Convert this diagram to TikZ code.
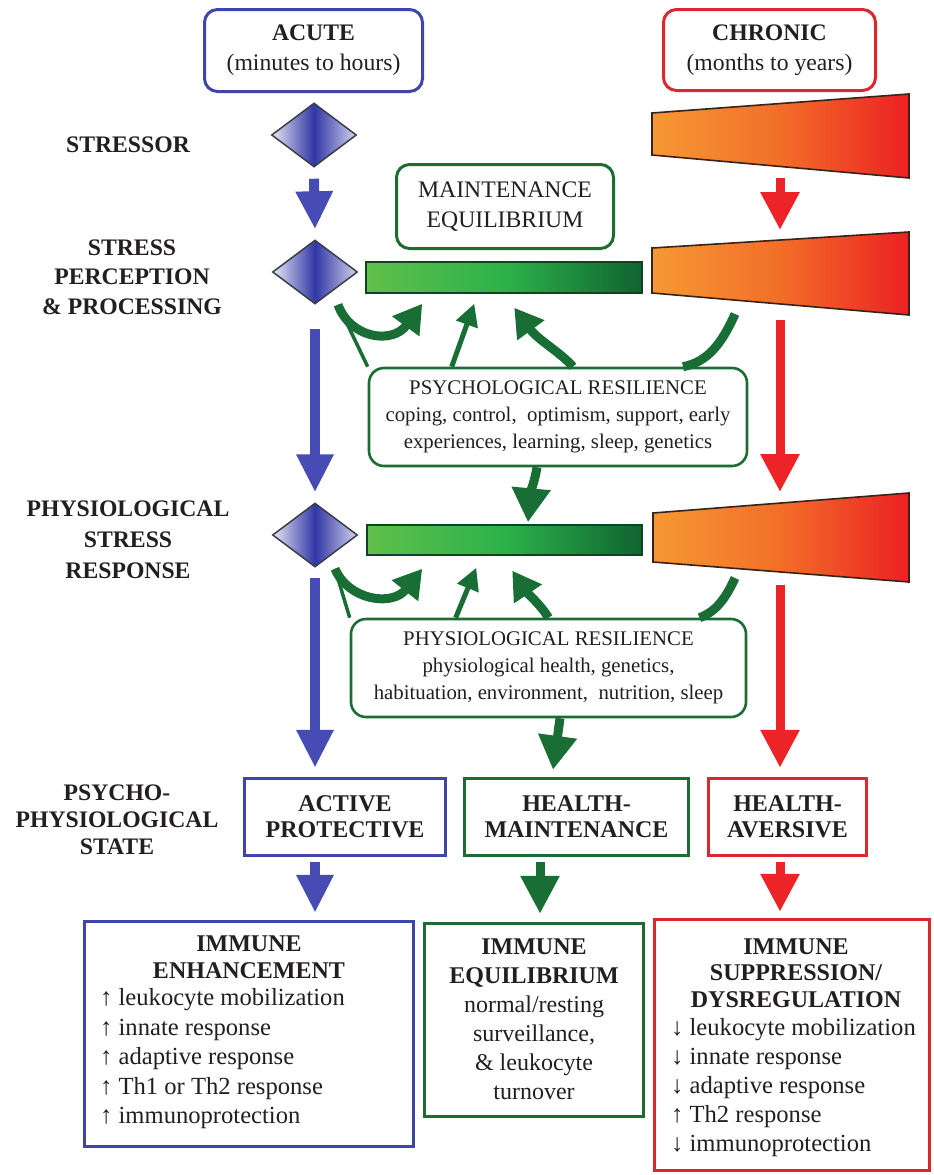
\documentclass[tikz,border=0pt]{standalone}
\usepackage{fontspec}
\setmainfont{Liberation Serif}
\usetikzlibrary{arrows.meta,shapes.geometric,calc}

\definecolor{acblue}{RGB}{62,70,168}
\definecolor{arblue}{RGB}{70,76,180}
\definecolor{diablue}{RGB}{48,54,165}
\definecolor{diaedge}{RGB}{60,60,70}
\definecolor{dkgreen}{RGB}{28,108,52}
\definecolor{argreen}{RGB}{24,110,52}
\definecolor{chred}{RGB}{218,40,46}
\definecolor{arred}{RGB}{236,36,40}
\definecolor{barA}{RGB}{96,192,74}
\definecolor{barB}{RGB}{44,178,74}
\definecolor{barC}{RGB}{16,100,48}
\definecolor{wedA}{RGB}{246,152,52}
\definecolor{wedM}{RGB}{242,110,40}
\definecolor{wedB}{RGB}{236,32,36}
\definecolor{wedline}{RGB}{55,35,25}
\definecolor{txt}{RGB}{35,31,32}

\tikzset{
  lbl/.style={font=\fontsize{23.7}{29.5}\selectfont\bfseries, align=center, text=txt, inner sep=0pt},
  hdrbox/.style={draw=#1, line width=3pt, rounded corners=13pt, align=center, text=txt,
    font=\fontsize{23.7}{30}\selectfont, inner sep=0pt},
  resbox/.style={draw=dkgreen, line width=2.6pt, rounded corners=15pt, fill=white, align=center,
    text=txt, font=\fontsize{20.8}{27}\selectfont, inner sep=0pt},
  statebox/.style={draw=#1, line width=3.5pt, align=center, text=txt,
    font=\fontsize{24}{26}\selectfont\bfseries, inner sep=0pt},
  immbox/.style={draw=#1, line width=3.5pt, inner sep=0pt},
  immhead/.style={align=center, text=txt, font=\fontsize{24}{27}\selectfont\bfseries, inner sep=0pt},
  immlist/.style={align=left, text=txt, font=\fontsize{24.6}{29.5}\selectfont, inner sep=0pt, anchor=west},
  stim/.style={diamond, draw=diaedge, line width=1.5pt, left color=white!88!diablue,
    right color=white!78!diablue, middle color=diablue, minimum width=85pt, minimum height=64pt,
    inner sep=0pt},
  gbar/.style={draw=barC!70!black, line width=1.5pt, left color=barA, right color=barC,
    middle color=barB, inner sep=0pt},
  wedge/.style={draw=wedline, line width=1.6pt, left color=wedA, right color=wedB, middle color=wedM},
  barrow/.style={draw=arblue, line width=10pt, -{Triangle[width=35pt,length=38pt]}},
  rarrow/.style={draw=arred, line width=9pt, -{Triangle[width=37pt,length=38pt]}},
  garrow/.style={draw=argreen, line width=9pt, -{Triangle[width=37pt,length=34pt]}},
  gthick/.style={draw=argreen, line width=9pt, -{Triangle[width=32pt,length=28pt]}},
  gmid/.style={draw=argreen, line width=5pt, -{Triangle[width=22pt,length=22pt]}},
  gline/.style={draw=argreen, line width=3.5pt},
  gband/.style={draw=argreen, line width=9pt},
}

\begin{document}
\begin{tikzpicture}[x=1pt,y=-1pt]
\fill[white] (0,0) rectangle (934,1175);
\useasboundingbox (0,0) rectangle (934,1175);

% time-scale headers
\node[hdrbox=acblue, minimum width=218pt, minimum height=82pt] (acute) at (313.5,50.5)
  {{\bfseries ACUTE}\\(minutes to hours)};
\node[hdrbox=chred, minimum width=212pt, minimum height=81pt] (chronic) at (769.5,50)
  {{\bfseries CHRONIC}\\(months to years)};

% row labels
\node[lbl] (lstressor) at (128,145) {STRESSOR};
\node[lbl] (lperc) at (132,277) {STRESS\\PERCEPTION\\\& PROCESSING};
\node[lbl, font=\fontsize{23.7}{31}\selectfont\bfseries] (lresp) at (128,540) {PHYSIOLOGICAL\\STRESS\\RESPONSE};
\node[lbl, font=\fontsize{23.7}{27}\selectfont\bfseries] (lstate) at (117,820) {PSYCHO-\\PHYSIOLOGICAL\\STATE};

% acute stressor diamonds
\node[stim] (d1) at (314,135) {};
\node[stim] (d2) at (315,272) {};
\node[stim] (d3) at (315,535) {};

% chronic stressor wedges
\path[wedge] (652,113) -- (909,94) -- (909,178) -- (652,155) -- cycle;
\path[wedge] (652,248) -- (909,232) -- (909,315) -- (652,293) -- cycle;
\path[wedge] (653,513) -- (909,493) -- (909,582) -- (653,562) -- cycle;
\coordinate (w1b) at (780,166);
\coordinate (w2t) at (780,240);
\coordinate (w2b) at (780,304);
\coordinate (w3t) at (780,503);
\coordinate (w3b) at (780,572);
\coordinate (w2c) at (735,314);
\coordinate (w3c) at (735,578);

% maintenance equilibrium
\node[hdrbox=dkgreen, minimum width=217pt, minimum height=84pt] (maint) at (505,206.5)
  {MAINTENANCE\\EQUILIBRIUM};
\node[gbar, minimum width=276pt, minimum height=31pt] (bar1) at (504,277.5) {};
\node[gbar, minimum width=275pt, minimum height=30pt] (bar2) at (504.5,540) {};

% resilience boxes
\node[resbox, minimum width=378pt, minimum height=98pt] (psy) at (558,417)
  {PSYCHOLOGICAL RESILIENCE\\coping, control,\ \ optimism, support, early\\experiences, learning, sleep, genetics};
\node[resbox, minimum width=395pt, minimum height=98pt] (phy) at (548.5,668)
  {PHYSIOLOGICAL RESILIENCE\\physiological health, genetics,\\habituation, environment,\ \ nutrition, sleep};

% psycho-physiological states
\node[statebox=acblue, minimum width=201pt, minimum height=77pt] (act) at (345,817) {ACTIVE\\PROTECTIVE};
\node[statebox=dkgreen, minimum width=224pt, minimum height=77pt] (hm) at (576.5,817) {HEALTH-\\MAINTENANCE};
\node[statebox=chred, minimum width=158pt, minimum height=77pt] (av) at (787.5,817) {HEALTH-\\AVERSIVE};

% immune outcomes
\node[immbox=acblue, minimum width=329pt, minimum height=225pt] (enh) at (249,1034) {};
\node[immhead] (enhh) at (249,957) {IMMUNE\\ENHANCEMENT};
\node[immlist] (enhl) at (100,1059) {↑ leukocyte mobilization\\↑ innate response\\↑ adaptive response\\↑ Th1 or Th2 response\\↑ immunoprotection};

\node[immbox=dkgreen, minimum width=219pt, minimum height=193pt] (eq) at (534,1020) {};
\node[align=center, text=txt, font=\fontsize{24}{29}\selectfont, inner sep=0pt] (eqt) at (534,1019.5)
  {{\bfseries IMMUNE}\\{\bfseries EQUILIBRIUM}\\normal/resting\\surveillance,\\\& leukocyte\\turnover};

\node[immbox=chred, minimum width=275pt, minimum height=251pt] (supp) at (792,1045) {};
\node[immhead, font=\fontsize{24}{26.5}\selectfont\bfseries] (supph) at (796,973) {IMMUNE\\SUPPRESSION/\\DYSREGULATION};
\node[immlist, font=\fontsize{24.6}{29}\selectfont] (suppl) at (671,1088) {↓ leukocyte mobilization\\↓ innate response\\↓ adaptive response\\↑ Th2 response\\↓ immunoprotection};

% acute pathway
\draw[barrow] ($(d1.south)+(0,11)$) -- ($(d2.north)+(0,-10)$);
\draw[barrow] ($(d2.south)+(0,24)$) -- ($(d3.north)+(0,-10)$);
\draw[barrow] ($(d3.south)+(0,10)$) -- ($(act.north -| d3)+(0,-9)$);
\draw[barrow] ($(act.south -| d3)+(0,5)$) -- ($(enh.north -| d3)+(0,-7)$);

% chronic pathway
\draw[rarrow] ($(w1b)+(0,12)$) -- ($(w2t)+(0,-10)$);
\draw[rarrow] ($(w2b)+(0,16)$) -- ($(w3t)+(0,-11)$);
\draw[rarrow] ($(w3b)+(0,13)$) -- ($(av.north -| w3b)+(0,-9)$);
\draw[rarrow] ($(av.south -| w3b)+(0,5)$) -- ($(supp.north -| w3b)+(0,-6)$);

% psychological resilience feedback
\coordinate (p1) at ($(d2.south)+(23,0)$);
\draw[gline] (psy.north west) -- (p1);
\draw[gthick] (p1) .. controls (350,338) and (392,345) .. ($(bar1.south west)+(57,10)$);
\draw[gmid] ($(psy.north west)+(84,0)$) -- ($(bar1.south west)+(109,10)$);
\draw[gthick] ($(psy.north)+(15,0)$) .. controls (560,352) and (538,340) .. ($(bar1.south west)+(149,14)$);
\draw[gband] (w2c) .. controls (722,343) and (708,362) .. ($(psy.north)+(125,0)$);
\draw[garrow] ($(psy.south)+(-21,0)$) .. controls (535,480) and (531,490) .. ($(bar2.north)+(23.5,-2)$);

% physiological resilience feedback
\coordinate (p2) at ($(d3.south)+(20,1)$);
\draw[gline] (phy.north west) -- (p2);
\draw[gthick] (p2) .. controls (348,600) and (392,607) .. ($(bar2.south west)+(56,13)$);
\draw[gmid] ($(phy.north west)+(106,0)$) -- ($(bar2.south west)+(110,12)$);
\draw[gthick] (phy.north) .. controls (540,604) and (528,594) .. ($(bar2.south west)+(146,15)$);
\draw[gband] (w3c) .. controls (725,600) and (715,612) .. ($(phy.north)+(151,0)$);
\draw[garrow] ($(phy.south)+(11.5,0)$) -- ($(hm.north)+(-23.5,-7)$);

% health maintenance to immune equilibrium
\draw[garrow, -{Triangle[width=37pt,length=38pt]}] ($(hm.south)+(-36.5,5)$) -- ($(eq.north)+(6,-8)$);
\end{tikzpicture}
\end{document}
